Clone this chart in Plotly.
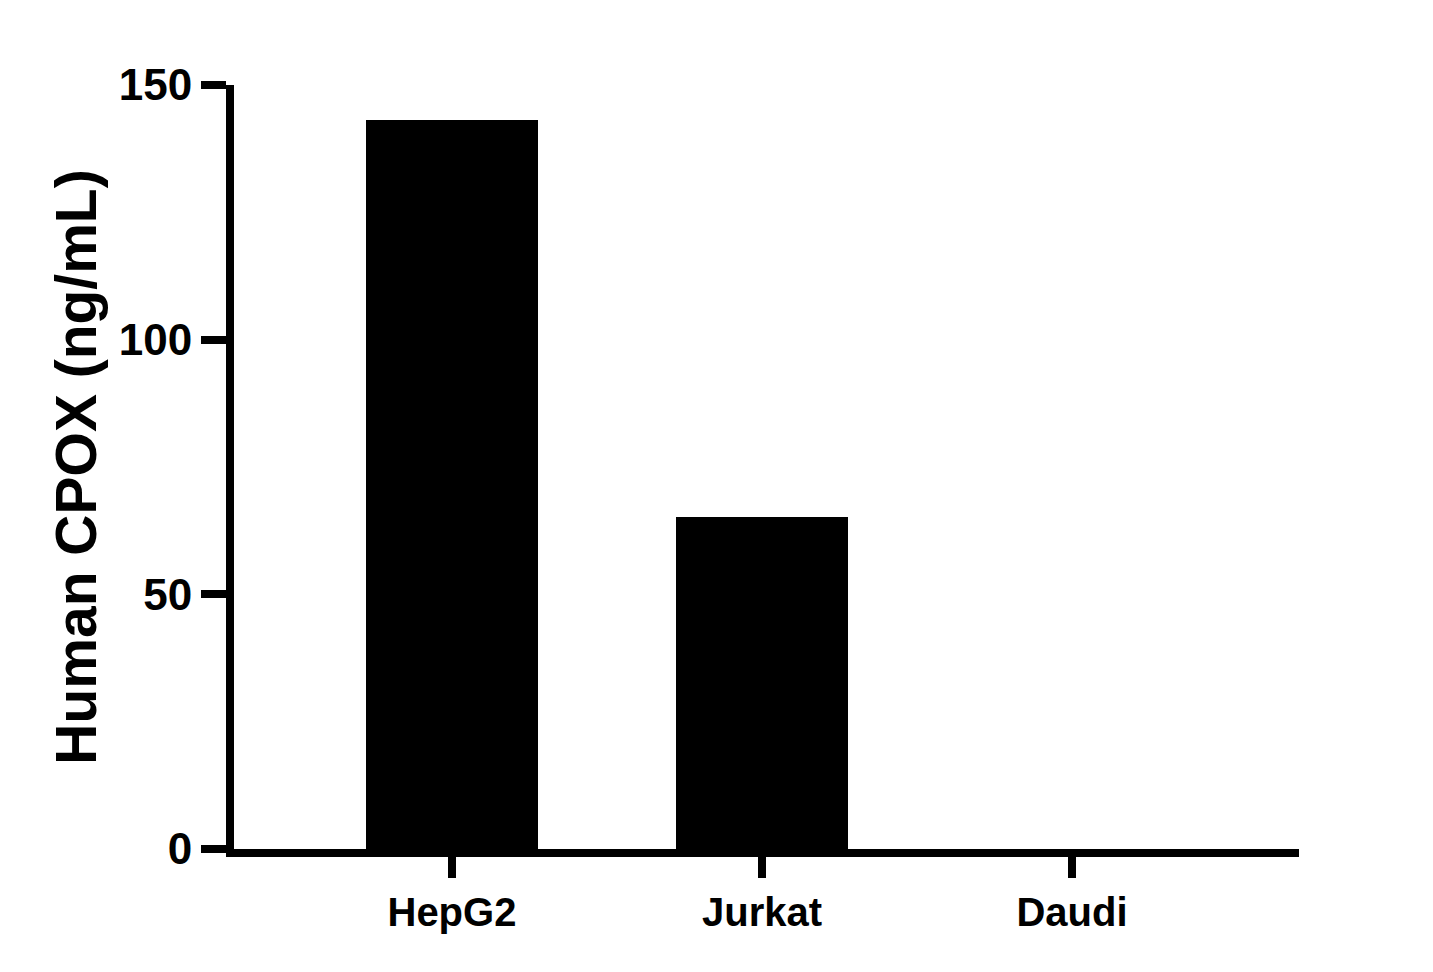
from plotly import graph_objects as go


cell_lines = ["HepG2", "Jurkat", "Daudi"]
cpox_ng_ml = [143.1, 65.1, 0.0]

y_ticks = [0, 50, 100, 150]
y_title = "Human CPOX (ng/mL)"

FONT = "Liberation Sans, Arial, sans-serif"


if __name__ == "__main__":

    ################################## TRACES ##################################
    bars = go.Bar(
        x=list(range(len(cell_lines))),
        y=cpox_ng_ml,
        width=0.552,
        marker=dict(color="black", line=dict(width=0)),
        showlegend=False,
    )

    ################################## FIGURE ##################################
    fig = go.Figure(data=[bars])

    fig.update_layout(
        width=1433,
        height=972,
        margin=dict(l=226, r=142, t=77, b=131),
        plot_bgcolor="white",
        paper_bgcolor="white",
        font=dict(family=FONT, color="black"),
        bargap=0,
    )

    fig.update_xaxes(
        range=[-0.703, 2.732],
        tickmode="array",
        tickvals=list(range(len(cell_lines))),
        ticktext=cell_lines,
        tickfont=dict(family=FONT, size=40, weight="bold"),
        showline=True,
        linecolor="black",
        linewidth=8,
        ticks="outside",
        ticklen=21,
        tickwidth=8,
        tickcolor="black",
        showgrid=False,
        zeroline=False,
    )

    fig.update_yaxes(
        range=[0, 150],
        tickmode="array",
        tickvals=y_ticks,
        tickfont=dict(family=FONT, size=44, weight="bold"),
        title=dict(text=y_title, font=dict(family=FONT, size=57, weight="bold"), standoff=7),
        showline=True,
        linecolor="black",
        linewidth=8,
        ticks="outside",
        ticklen=25,
        tickwidth=8,
        tickcolor="black",
        showgrid=False,
        zeroline=False,
    )

    ################################ PRINT / SHOW ##############################
    fig.write_html("out.html")
